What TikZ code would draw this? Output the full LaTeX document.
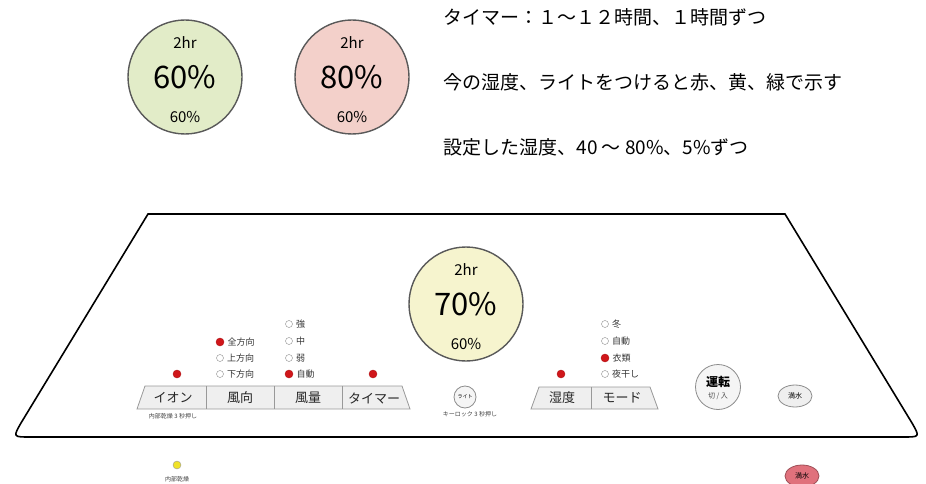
\documentclass[tikz,border=0pt]{standalone}
\usepackage{fontspec}
\setmainfont{Noto Sans CJK JP}
\usetikzlibrary{shapes.geometric}

\definecolor{dialgreen}{RGB}{226,236,200}
\definecolor{dialpink}{RGB}{243,208,202}
\definecolor{dialyellow}{RGB}{246,244,206}
\definecolor{ledred}{RGB}{208,22,26}
\definecolor{ledyellow}{RGB}{240,226,40}
\definecolor{fullred}{RGB}{224,113,124}
\definecolor{keygray}{RGB}{239,239,239}

\tikzset{
  panel/.style={line width=1.6pt,black},
  dial/.style={circle,draw=black!65,line width=1.4pt,minimum size=114pt,inner sep=0pt},
  keybar/.style={draw=black!40,line width=0.8pt},
  led/.style={circle,fill=ledred,draw=ledred!85!black,minimum size=8pt,inner sep=0pt},
  ledoff/.style={circle,draw=black!45,fill=white,minimum size=7pt,inner sep=0pt},
  roundkey/.style={circle,draw=black!45,fill=keygray!60,line width=0.8pt,inner sep=0pt},
  ovalkey/.style={ellipse,draw=black!45,fill=keygray,line width=0.8pt,minimum width=34pt,minimum height=22pt,inner sep=0pt},
  keylabel/.style={font=\fontsize{13}{14}\selectfont,text=black!85},
  optlabel/.style={anchor=west,font=\fontsize{9}{10}\selectfont,text=black!80},
  note/.style={font=\fontsize{6}{7}\selectfont,text=black!75},
  memo/.style={anchor=west,font=\fontsize{19}{22}\selectfont},
  small/.style={font=\fontsize{15}{16}\selectfont},
  big/.style={font=\fontsize{31}{32}\selectfont}
}

\begin{document}
\begin{tikzpicture}[x=1pt,y=-1pt]
\useasboundingbox (0,0) rectangle (926,484);

\node[dial,fill=dialgreen] (hum60) at (185,77) {};
\node[small] at ([yshift=34pt]hum60.center) {2hr};
\node[big] at (hum60.center) {60\%};
\node[small] at ([yshift=-40pt]hum60.center) {60\%};

\node[dial,fill=dialpink] (hum80) at (352,77) {};
\node[small] at ([yshift=34pt]hum80.center) {2hr};
\node[big] at (hum80.center) {80\%};
\node[small] at ([yshift=-40pt]hum80.center) {60\%};

\node[memo] (memotimer) at (440,17) {タイマー：１～１２時間、１時間ずつ};
\node[memo] (memonow) at (440,82) {今の湿度、ライトをつけると赤、黄、緑で示す};
\node[memo] (memoset) at (440,147) {設定した湿度、40 ～ 80\%、5\%ずつ};

\draw[panel] (148,214) -- (785,214) -- (912,423) .. controls (920,437) .. (903,437)
  -- (30,437) .. controls (13,437) .. (21,423) -- cycle;

\node[dial,fill=dialyellow] (hum70) at (466,304) {};
\node[small] at ([yshift=34pt]hum70.center) {2hr};
\node[big] at (hum70.center) {70\%};
\node[small] at ([yshift=-40pt]hum70.center) {60\%};

\draw[keybar,fill=keygray] (145,386) -- (402,386) -- (410,409) -- (137,409) -- cycle;
\draw[keybar] (206,386) -- (206,409) (274,386) -- (274,409) (342,386) -- (342,409);
\node[keylabel] (ion) at (173,398) {イオン};
\node[keylabel] (winddir) at (240,398) {風向};
\node[keylabel] (windvol) at (308,398) {風量};
\node[keylabel] (timer) at (374,398) {タイマー};
\node[note] (dryhold) at (173,416) {内部乾燥 3 秒押し};

\node[led] (ionled) at (177,374) {};
\node[led] (timerled) at (373,374) {};

\node[led] (dirall) at (220,342) {};
\node[optlabel] at (dirall.east) {全方向};
\node[ledoff] (dirup) at (220,358) {};
\node[optlabel] at (dirup.east) {上方向};
\node[ledoff] (dirdown) at (220,374) {};
\node[optlabel] at (dirdown.east) {下方向};

\node[ledoff] (volstrong) at (289,324) {};
\node[optlabel] at (volstrong.east) {強};
\node[ledoff] (volmid) at (289,341) {};
\node[optlabel] at (volmid.east) {中};
\node[ledoff] (volweak) at (289,358) {};
\node[optlabel] at (volweak.east) {弱};
\node[led] (volauto) at (289,374) {};
\node[optlabel] at (volauto.east) {自動};

\node[roundkey,minimum size=22pt] (light) at (465,397) {\fontsize{5}{6}\selectfont ライト};
\node[note] (keylock) at (470,414) {キーロック 3 秒押し};

\draw[keybar,fill=keygray] (539,387) -- (650,387) -- (658,409) -- (531,409) -- cycle;
\draw[keybar] (591,387) -- (591,409);
\node[keylabel] (humid) at (562,398) {湿度};
\node[keylabel] (mode) at (622,398) {モード};
\node[led] (humidled) at (561,374) {};

\node[ledoff] (modewinter) at (605,324) {};
\node[optlabel] at (modewinter.east) {冬};
\node[ledoff] (modeauto) at (605,341) {};
\node[optlabel] at (modeauto.east) {自動};
\node[led] (modecloth) at (605,358) {};
\node[optlabel] at (modecloth.east) {衣類};
\node[ledoff] (modenight) at (605,374) {};
\node[optlabel] at (modenight.east) {夜干し};

\node[roundkey,minimum size=45pt] (power) at (718,387) {};
\node[font=\fontsize{12}{13}\selectfont\bfseries] at ([yshift=5pt]power.center) {運転};
\node[font=\fontsize{7}{8}\selectfont,text=black!70] at ([yshift=-9pt]power.center) {切 / 入};

\node[ovalkey] (fullkey) at (795,396) {\fontsize{7}{8}\selectfont 満水};

\node[circle,fill=ledyellow,draw=black!40,minimum size=8pt,inner sep=0pt] (dryled) at (177,465) {};
\node[note] (drytext) at (177,479) {内部乾燥};

\node[ovalkey,fill=fullred,draw=fullred!70!black] (fulllamp) at (802,476) {\fontsize{7}{8}\selectfont 満水};
\end{tikzpicture}
\end{document}
